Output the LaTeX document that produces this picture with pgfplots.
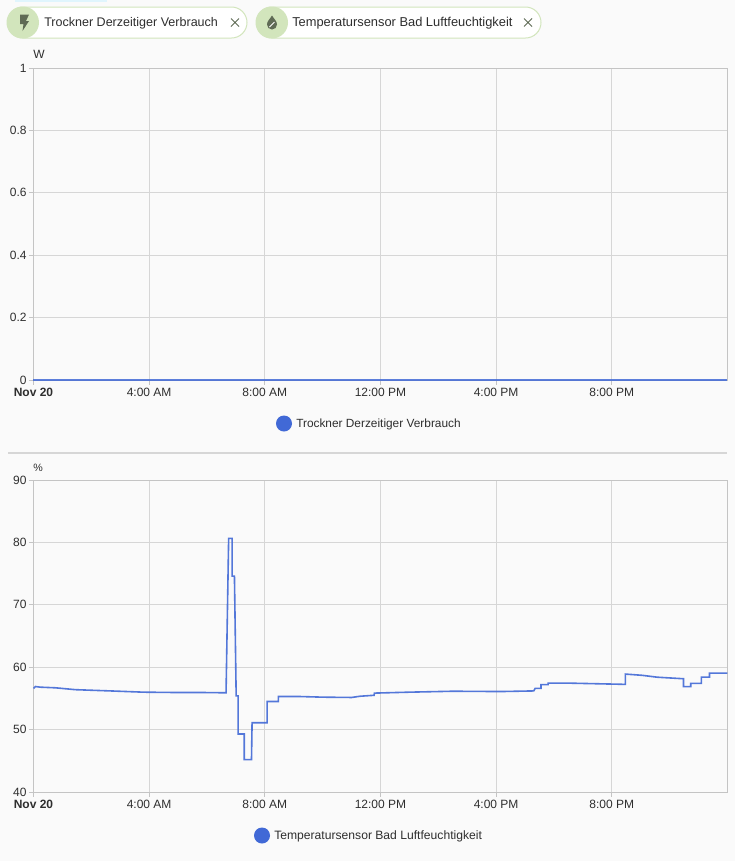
\documentclass[border=0pt]{standalone}
\usepackage{fontspec}
\setmainfont{Liberation Sans}
\usepackage{pgfplots}
\pgfplotsset{compat=1.18}
\definecolor{bg}{HTML}{FAFAFA}
\definecolor{gridc}{HTML}{D6D6D6}
\definecolor{axc}{HTML}{C4C4C4}
\definecolor{serie}{HTML}{4169D6}
\definecolor{chip}{HTML}{D2E5BC}
\definecolor{icon}{HTML}{5F6B55}
\definecolor{txt}{HTML}{2E2E2E}
\pgfplotstableread{
h v
0 56.6
0.07 56.9
0.24 56.8
0.76 56.7
1.45 56.4
2.66 56.2
3.80 56.0
4.84 55.95
5.77 55.95
6.66 55.9
6.75 80.65
6.87 80.65
6.87 74.6
6.95 74.6
7.01 55.4
7.08 55.4
7.08 49.3
7.29 49.3
7.29 45.2
7.54 45.2
7.56 51.1
8.08 51.1
8.08 54.5
8.47 54.5
8.47 55.3
9.23 55.3
10.0 55.2
11.0 55.15
11.3 55.35
11.78 55.5
11.79 55.85
13.0 56.0
14.5 56.15
16.15 56.1
17.3 56.2
17.35 56.6
17.55 56.6
17.55 57.2
17.8 57.2
17.8 57.45
18.5 57.45
20.47 57.25
20.47 58.9
21.05 58.7
21.57 58.4
22.48 58.15
22.48 56.9
22.73 56.9
22.73 57.4
23.1 57.4
23.1 58.4
23.38 58.4
23.38 59.05
24 59.05
}\humidity
\pgfplotstableread{
h v
0 0
24 0
}\power
\pgfplotsset{
 hassbase/.style={
  x=21.6875pt, y=1pt,
  scale only axis, width=520.5pt, height=234pt,
  xmin=0, xmax=24,
  xtick={0,4,8,12,16,20},
  xticklabels={\textbf{Nov 20},4:00 AM,8:00 AM,12:00 PM,4:00 PM,8:00 PM},
  grid=major,
  grid style={gridc,line width=0.75pt},
  axis line style={axc,line width=0.75pt},
  tick style={axc,line width=0.75pt},
  tick align=outside, xtick pos=bottom, ytick pos=left,
  major tick length=3.5pt,
  tick label style={font=\fontsize{9pt}{11pt}\selectfont,text=txt},
  xticklabel style={yshift=-1.2pt,inner sep=1pt},
  yticklabel style={inner sep=1pt,xshift=-0.5pt},
  /pgf/number format/assume math mode=true,
  clip=false,
 }
}
\begin{document}
\begin{tikzpicture}
\begin{scope}[x=0.75pt,y=-0.75pt]
\path[use as bounding box,fill=bg] (0,0) rectangle (735,861);
\fill[cyan!12] (15,0) rectangle (107,2);
\draw[chip,fill=white,line width=0.75pt,rounded corners=11.6pt] (7,7) rectangle (247,38);
\draw[chip,fill=white,line width=0.75pt,rounded corners=11.6pt] (256,7) rectangle (541,38);
\fill[chip] (23,22.5) circle (16);
\fill[chip] (272,22.5) circle (16);
\fill[icon] (20,14.5) -- (29,14.5) -- (26,21) -- (29,21) -- (22.5,31) -- (23.5,24) -- (20,24) -- cycle;
\fill[icon] (272,15.5) .. controls (274,19) and (277,21) .. (277,24.5) arc (0:180:5) .. controls (267,21) and (270,19) .. (272,15.5) -- cycle;
\draw[white,line width=0.6pt] (269.5,27) -- (274.5,22);
\node[anchor=base west,inner sep=0,text=txt,font=\fontsize{9.4pt}{11pt}\selectfont] at (44,26.5) {Trockner Derzeitiger Verbrauch};
\node[anchor=base west,inner sep=0,text=txt,font=\fontsize{9.65pt}{11pt}\selectfont] at (292,26.5) {Temperatursensor Bad Luftfeuchtigkeit};
\draw[icon,line width=0.6pt] (231,18.5) -- (239,26.5) (239,18.5) -- (231,26.5);
\draw[icon,line width=0.6pt] (524,18.5) -- (532,26.5) (532,18.5) -- (524,26.5);
\node[anchor=base west,inner sep=0,text=txt,font=\fontsize{9pt}{10pt}\selectfont] at (33,58) {W};
\fill[serie] (284,423.5) circle (8);
\node[anchor=base west,inner sep=0,text=txt,font=\fontsize{8.9pt}{11pt}\selectfont] at (296,427) {Trockner Derzeitiger Verbrauch};
\draw[gridc,line width=1.5pt] (8,453) -- (727,453);
\node[anchor=base west,inner sep=0,text=txt,font=\fontsize{8pt}{10pt}\selectfont] at (33,471) {\%};
\fill[serie] (262,835.5) circle (8);
\node[anchor=base west,inner sep=0,text=txt,font=\fontsize{9.1pt}{11pt}\selectfont] at (274,839) {Temperatursensor Bad Luftfeuchtigkeit};
\end{scope}
\begin{axis}[hassbase, y=234pt, at={(25.1pt,-285pt)}, anchor=south west,
  ymin=0, ymax=1, ytick={0,0.2,0.4,0.6,0.8,1},
  yticklabels={0,0.2,0.4,0.6,0.8,1}]
\addplot[serie,line width=1.5pt,opacity=.85] table[x=h,y=v] {\power};
\end{axis}
\begin{axis}[hassbase, y=4.68pt, at={(25.1pt,-594pt)}, anchor=south west,
  ymin=40, ymax=90, ytick={40,50,60,70,80,90}]
\addplot[serie,line width=1.2pt,line join=miter,opacity=.9] table[x=h,y=v] {\humidity};
\end{axis}
\end{tikzpicture}
\end{document}
